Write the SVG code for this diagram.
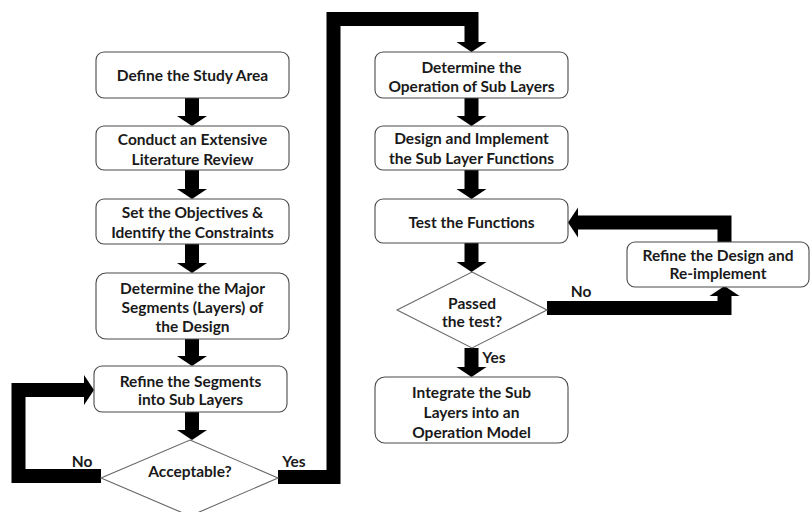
<svg xmlns="http://www.w3.org/2000/svg" width="811" height="512" viewBox="0 0 811 512">
<defs>
<style>
.box{fill:#fff;stroke:#4a4a4a;stroke-width:1.1}
.dia{fill:#fff;stroke:#666;stroke-width:1.1}
text{font-family:Lato,"Open Sans","Liberation Sans",sans-serif;font-weight:bold;font-size:15.5px;fill:#1a1a1a;text-anchor:middle}
.c{fill:none;stroke:#000;stroke-width:14;stroke-linejoin:miter;stroke-linecap:butt}
</style>
<marker id="ah" markerUnits="userSpaceOnUse" markerWidth="11" markerHeight="30" refX="0" refY="15" orient="auto" overflow="visible">
<path d="M0,0 L10,15 L0,30 Z" fill="#000"/>
</marker>
</defs>
<rect width="811" height="512" fill="#fff"/>
<g id="connectors">
<path class="c" d="M192,98 V116" marker-end="url(#ah)"/>
<path class="c" d="M192,170 V189" marker-end="url(#ah)"/>
<path class="c" d="M192,244 V263" marker-end="url(#ah)"/>
<path class="c" d="M192,339 V356" marker-end="url(#ah)"/>
<path class="c" d="M192,412 V430" marker-end="url(#ah)"/>
<path class="c" d="M278,477 H333.5 V19 H471.5 V42" marker-end="url(#ah)"/>
<path class="c" d="M101,476 H18.5 V390 H84" marker-end="url(#ah)"/>
<path class="c" d="M471.5,98 V116" marker-end="url(#ah)"/>
<path class="c" d="M471.5,170 V189" marker-end="url(#ah)"/>
<path class="c" d="M471.5,243 V262" marker-end="url(#ah)"/>
<path class="c" d="M471.5,348 V367" marker-end="url(#ah)"/>
<path class="c" d="M547,308 H724.5 V296" marker-end="url(#ah)"/>
<path class="c" d="M724.5,242 V222.5 H578" marker-end="url(#ah)"/>
<text x="82" y="467">No</text>
<text x="294" y="467">Yes</text>
<text x="581" y="297">No</text>
<text x="494" y="363">Yes</text>
</g>
<g id="n1"><rect class="box" x="96" y="52" width="193" height="46" rx="8"/><text x="192.5" y="80.5">Define the Study Area</text></g>
<g id="n2"><rect class="box" x="96" y="126" width="193" height="44" rx="8"/><text x="192.5" y="144.5">Conduct an Extensive</text><text x="192.5" y="164.5">Literature Review</text></g>
<g id="n3"><rect class="box" x="96" y="199" width="193" height="45" rx="8"/><text x="192.5" y="218">Set the Objectives &amp;</text><text x="192.5" y="237.5">Identify the Constraints</text></g>
<g id="n4"><rect class="box" x="96" y="273" width="193" height="66" rx="10"/><text x="192.5" y="293.5">Determine the Major</text><text x="192.5" y="312.5">Segments (Layers) of</text><text x="192.5" y="331.5">the Design</text></g>
<g id="n5"><rect class="box" x="94" y="366" width="193" height="46" rx="8"/><text x="190.5" y="386.5">Refine the Segments</text><text x="190.5" y="404.5">into Sub Layers</text></g>
<g id="d1"><polygon class="dia" points="190,440 278,478 190,516 101,478"/><text x="190" y="476.5">Acceptable?</text></g>
<g id="n6"><rect class="box" x="375" y="52" width="193" height="46" rx="8"/><text x="471.5" y="72.5">Determine the</text><text x="471.5" y="91.5">Operation of Sub Layers</text></g>
<g id="n7"><rect class="box" x="375" y="126" width="193" height="44" rx="8"/><text x="471.5" y="143.5">Design and Implement</text><text x="471.5" y="163.5">the Sub Layer Functions</text></g>
<g id="n8"><rect class="box" x="375" y="199" width="193" height="44" rx="8"/><text x="471.5" y="227.5">Test the Functions</text></g>
<g id="d2"><polygon class="dia" points="472,272 547,310 472,348 397,310"/><text x="472" y="308.5">Passed</text><text x="472" y="326.5">the test?</text></g>
<g id="n9"><rect class="box" x="375" y="377" width="193" height="66" rx="10"/><text x="471.5" y="397.5">Integrate the Sub</text><text x="471.5" y="417.5">Layers into an</text><text x="471.5" y="437.5">Operation Model</text></g>
<g id="n10"><rect class="box" x="627" y="242" width="182" height="45" rx="8"/><text x="718" y="260.5">Refine the Design and</text><text x="718" y="278.5">Re-implement</text></g>
</svg>
